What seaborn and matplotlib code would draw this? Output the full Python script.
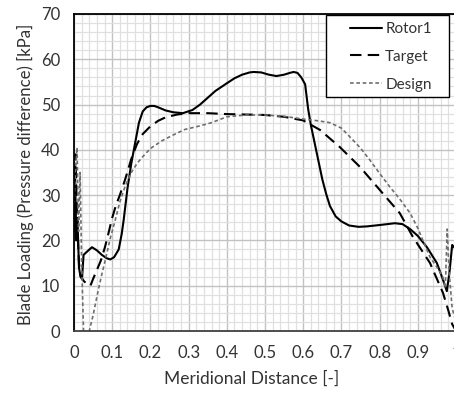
import numpy as np
import pandas as pd
import matplotlib
matplotlib.use("Agg")
import matplotlib.pyplot as plt
import seaborn as sns
from matplotlib.ticker import MultipleLocator
from matplotlib.patches import Rectangle

# ---- data ----
rotor_x = [0.0, 0.003, 0.006, 0.009, 0.013, 0.017, 0.021, 0.025, 0.035, 0.047, 0.06,
           0.073, 0.085, 0.095, 0.105, 0.117, 0.125, 0.13, 0.14, 0.15, 0.16, 0.17, 0.18,
           0.19, 0.2, 0.21, 0.22, 0.24, 0.26, 0.285, 0.31, 0.33, 0.35, 0.37, 0.4, 0.42,
           0.44, 0.46, 0.47, 0.49, 0.51, 0.53, 0.55, 0.565, 0.575, 0.585, 0.595, 0.605,
           0.613, 0.62, 0.63, 0.64, 0.65, 0.66, 0.67, 0.685, 0.7, 0.72, 0.745, 0.767,
           0.8, 0.84, 0.86, 0.88, 0.9, 0.924, 0.95, 0.966, 0.976, 0.983, 0.99, 1.0]
rotor_y = [22.0, 34.0, 20.0, 25.0, 14.0, 12.0, 11.5, 16.8, 17.6, 18.5, 17.8,
           16.8, 16.1, 15.8, 16.3, 18.0, 21.5, 24.5, 31.5, 37.0, 41.5, 46.0, 48.5,
           49.4, 49.7, 49.7, 49.4, 48.7, 48.3, 48.1, 48.8, 50.0, 51.5, 53.0, 54.7, 55.8,
           56.6, 57.1, 57.2, 57.1, 56.6, 56.3, 56.6, 57.0, 57.2, 57.0, 56.0, 54.5,
           49.0, 45.5, 41.5, 37.5, 33.5, 30.3, 27.6, 25.3, 24.2, 23.3, 23.0, 23.1,
           23.4, 23.8, 23.6, 22.5, 21.0, 18.5, 15.0, 11.3, 8.8, 13.0, 19.0, 18.0]

target_x = [0.0, 0.004, 0.008, 0.013, 0.018, 0.026, 0.035, 0.043, 0.05, 0.06, 0.07,
            0.081, 0.09, 0.1, 0.11, 0.12, 0.134, 0.15, 0.165, 0.18, 0.2, 0.22, 0.24,
            0.27, 0.3, 0.35, 0.4, 0.45, 0.5, 0.55, 0.6, 0.644, 0.696, 0.749, 0.801,
            0.853, 0.887, 0.932, 0.966, 0.98, 0.99, 1.0]
target_y = [30.0, 39.0, 25.0, 15.0, 12.0, 11.0, 10.3, 10.0, 11.5, 13.5, 15.5,
            18.5, 21.5, 25.0, 27.8, 30.0, 33.5, 38.0, 41.3, 43.5, 45.2, 46.4, 47.2,
            47.8, 48.1, 48.1, 47.9, 47.8, 47.7, 47.3, 46.5, 44.4, 40.6, 36.2, 31.1,
            26.0, 20.8, 15.0, 8.4, 4.5, 1.5, 0.0]

design_x = [0.0, 0.004, 0.008, 0.012, 0.016, 0.02, 0.025, 0.03, 0.035, 0.04, 0.05,
            0.06, 0.07, 0.082, 0.095, 0.108, 0.12, 0.134, 0.15, 0.165, 0.18, 0.2, 0.23,
            0.26, 0.29, 0.33, 0.36, 0.4, 0.45, 0.5, 0.55, 0.6, 0.64, 0.67, 0.7, 0.723,
            0.75, 0.775, 0.8, 0.827, 0.855, 0.88, 0.9, 0.932, 0.955, 0.966, 0.972,
            0.977, 0.982, 0.99, 1.0]
design_y = [28.0, 36.0, 40.5, 22.0, 35.0, 15.0, 0.0, -10.0, -10.0, 0.0, 3.5,
            7.6, 11.5, 15.7, 20.5, 24.5, 28.5, 32.0, 35.0, 37.0, 38.5, 40.3, 42.0,
            43.3, 44.5, 45.3, 46.0, 47.3, 47.7, 47.7, 47.4, 46.8, 46.4, 46.0, 44.8, 42.8,
            40.4, 37.7, 34.8, 31.8, 28.9, 26.0, 22.7, 16.3, 13.5, 11.8, 9.5,
            22.5, 13.0, 5.0, 2.0]

series_names = ["Rotor1", "Target", "Design"]
x_ticks = [0, 0.1, 0.2, 0.3, 0.4, 0.5, 0.6, 0.7, 0.8, 0.9, 1]
x_tick_labels = ["0", "0.1", "0.2", "0.3", "0.4", "0.5", "0.6", "0.7", "0.8", "0.9", "1"]
y_ticks = [0, 10, 20, 30, 40, 50, 60, 70]

# ---- figure ----
sns.set_theme(style="white")
plt.rcParams["font.family"] = ["Lato", "DejaVu Sans"]
TICK_FS = 12
XLAB_FS = 12.5
YLAB_FS = 12.1
LEG_FS = 11
TXT = "#333333"

fig = plt.figure(figsize=(4.54, 3.94), dpi=100)
W, H = 454, 394
x0, x1 = 74, 456
ytop, ybot = 14, 331
ax = fig.add_axes([x0 / W, (H - ybot) / H, (x1 - x0) / W, (ybot - ytop) / H])

styles = {
    "Rotor1": dict(color="black", linewidth=1.5, linestyle="-"),
    "Target": dict(color="black", linewidth=1.5, linestyle=(0, (5.5, 3))),
    "Design": dict(color="#6e6e6e", linewidth=1.2, linestyle=(0, (2.2, 1.6))),
}
data = {"Rotor1": (rotor_x, rotor_y), "Target": (target_x, target_y),
        "Design": (design_x, design_y)}

for name in series_names:
    xs, ys = data[name]
    df = pd.DataFrame({"x": xs, "y": ys})
    sns.lineplot(data=df, x="x", y="y", ax=ax, sort=False, estimator=None,
                 label=name, **styles[name])

ax.set_xlim(0, 1)
ax.set_ylim(0, 70)
ax.set_xticks(x_ticks)
ax.set_xticklabels(x_tick_labels)
ax.set_yticks(y_ticks)
ax.xaxis.set_minor_locator(MultipleLocator(0.02))
ax.yaxis.set_minor_locator(MultipleLocator(2))
ax.grid(which="major", color="#c2c2c2", linewidth=1.0)
ax.grid(which="minor", color="#e0e0e0", linewidth=0.9)
ax.set_axisbelow(True)
ax.tick_params(which="both", length=0, labelsize=TICK_FS, colors=TXT)
ax.tick_params(axis="x", pad=10)
ax.tick_params(axis="y", pad=10)

ax.set_xlabel("Meridional Distance [-]", fontsize=XLAB_FS, color=TXT)
ax.xaxis.set_label_coords((251.5 - x0) / (x1 - x0), -(379 - ybot) / (ybot - ytop))
ax.xaxis.label.set_va("center")
ax.set_ylabel("Blade Loading (Pressure difference) [kPa]", fontsize=YLAB_FS,
              color=TXT)
ax.yaxis.set_label_coords(-(x0 - 25) / (x1 - x0), (ybot - 174) / (ybot - ytop))
ax.yaxis.label.set_va("center")

for side, sp in ax.spines.items():
    sp.set_visible(True)
    sp.set_color("black")
    sp.set_linewidth(1.3)
ax.spines["bottom"].set_color("#404040")

# legend frame (Excel-style wide box) + legend entries
frame = Rectangle((326 / W, 1 - 97 / H), (449 - 326) / W, (97 - 15) / H,
                  transform=fig.transFigure, facecolor="white",
                  edgecolor="black", linewidth=1.0, zorder=4, clip_on=False)
ax.add_patch(frame)
leg = ax.legend(loc="upper left", bbox_to_anchor=(350 / W, 1 - 22 / H),
                bbox_transform=fig.transFigure, borderaxespad=0, borderpad=0,
                frameon=False, fontsize=LEG_FS, handlelength=2.1,
                handletextpad=0.2, labelspacing=0.9)
for t in leg.get_texts():
    t.set_color(TXT)
leg.set_zorder(6)

fig.savefig("out.png", dpi=100)
